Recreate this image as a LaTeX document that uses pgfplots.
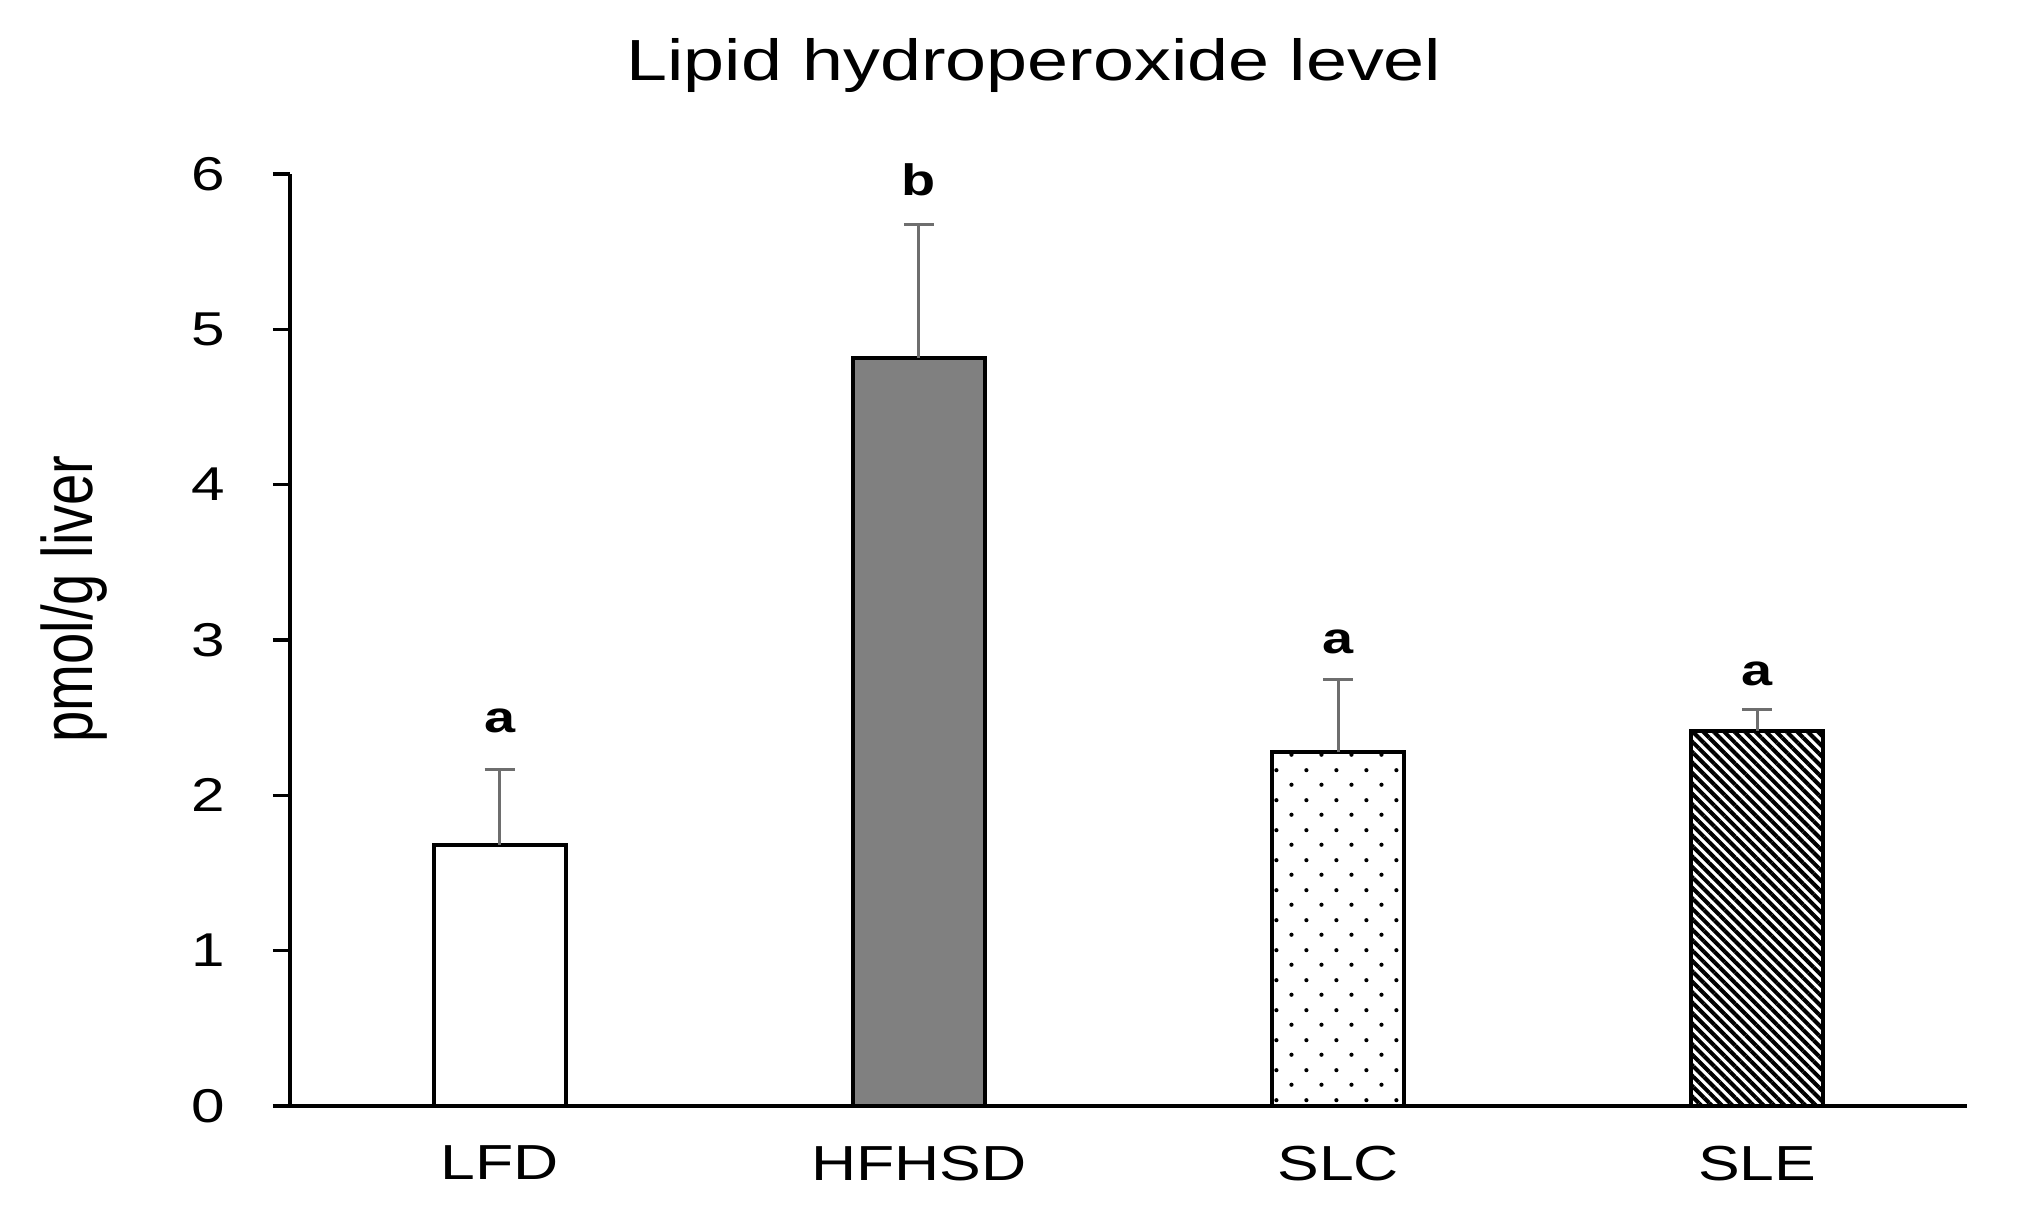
\documentclass[border=0pt]{standalone}
\usepackage{fontspec}
\setmainfont{Liberation Sans}[FakeStretch=1.27]
\newfontfamily\plainsans{Liberation Sans}
\newfontfamily\boldsans{Liberation Sans Bold}[FakeStretch=1.27]
\usepackage{graphicx}
\usepackage{pgfplots}
\pgfplotsset{compat=1.18}
\usetikzlibrary{patterns.meta}

\definecolor{errgray}{RGB}{110,110,110}
\definecolor{barfill}{RGB}{128,128,128}

% staggered dots, as in the SLC bar
\tikzdeclarepattern{
  name=stagdots,
  type=uncolored,
  bottom left={(0pt,0pt)},
  top right={(8.5pt,8.4pt)},
  tile size={(8.5pt,8.4pt)},
  code={
    \fill (2.125pt,2.1pt) circle (0.6pt);
    \fill (6.375pt,6.3pt) circle (0.6pt);
  }
}

\begin{document}
\begin{tikzpicture}
\begin{axis}[
    width=16.77cm, height=9.32cm, scale only axis,
    xmin=-0.5, xmax=3.5, ymin=0, ymax=6,
    enlargelimits=false,
    axis x line=bottom, axis y line=left,
    axis line style={-, line width=1.2pt, black},
    xtick={0,1,2,3},
    xticklabels={LFD,HFHSD,SLC,SLE},
    ytick={0,1,2,3,4,5,6},
    x tick style={draw=none},
    y tick style={line width=1pt, black},
    tick align=outside,
    major tick length=0.17cm,
    /pgf/number format/assume math mode=true,
    yticklabel style={font=\fontsize{13.5}{15}\selectfont, anchor=east, inner sep=0pt, xshift=-0.47cm},
    xticklabel style={font=\fontsize{14}{16}\selectfont, anchor=north, inner sep=0pt, yshift=-0.22cm},
    title={Lipid hydroperoxide level},
    title style={font=\fontsize{16.5}{18}\selectfont, at={(axis description cs:0.4437,1)}, anchor=base, yshift=0.72cm},
    ylabel={\scalebox{1}[1.27]{\plainsans\fontsize{16}{18}\selectfont pmol/g liver}},
    every axis y label/.style={at={(axis description cs:-0.1175,0.544)}, rotate=90, anchor=base},
]

% LFD
\addplot[ybar, bar width=1.32cm, bar shift=0pt, draw=black, line width=1.2pt, fill=white,
    error bars/.cd, y dir=plus, y explicit,
    error bar style={line width=0.85pt, errgray},
    error mark options={rotate=90, mark size=0.15cm, line width=0.85pt, errgray}]
    coordinates {(0,1.681) +- (0,0.483)};

% HFHSD
\addplot[ybar, bar width=1.32cm, bar shift=0pt, draw=black, line width=1.2pt, fill=barfill,
    error bars/.cd, y dir=plus, y explicit,
    error bar style={line width=0.85pt, errgray},
    error mark options={rotate=90, mark size=0.15cm, line width=0.85pt, errgray}]
    coordinates {(1,4.816) +- (0,0.857)};

% SLC
\addplot[ybar, bar width=1.32cm, bar shift=0pt, draw=black, line width=1.2pt,
    pattern=stagdots, pattern color=black,
    error bars/.cd, y dir=plus, y explicit,
    error bar style={line width=0.85pt, errgray},
    error mark options={rotate=90, mark size=0.15cm, line width=0.85pt, errgray}]
    coordinates {(2,2.279) +- (0,0.464)};

% SLE
\addplot[ybar, bar width=1.32cm, bar shift=0pt, draw=black, line width=1.2pt,
    pattern={Lines[angle=-45, distance=2.1pt, line width=1.15pt]}, pattern color=black,
    error bars/.cd, y dir=plus, y explicit,
    error bar style={line width=0.85pt, errgray},
    error mark options={rotate=90, mark size=0.15cm, line width=0.85pt, errgray}]
    coordinates {(3,2.415) +- (0,0.135)};

% significance letters
\addplot[draw=none, mark=none, nodes near coords, point meta=explicit symbolic,
    every node near coord/.append style={anchor=south, inner sep=0pt, font=\boldsans\fontsize{12.5}{14}\selectfont}]
    coordinates {(0,2.40)[a] (1,5.855)[b] (2,2.904)[a] (3,2.698)[a]};

\end{axis}
\pgfresetboundingbox
\path (-2.90cm,-1.04cm) rectangle (17.33cm,11.06cm);
\end{tikzpicture}
\end{document}
